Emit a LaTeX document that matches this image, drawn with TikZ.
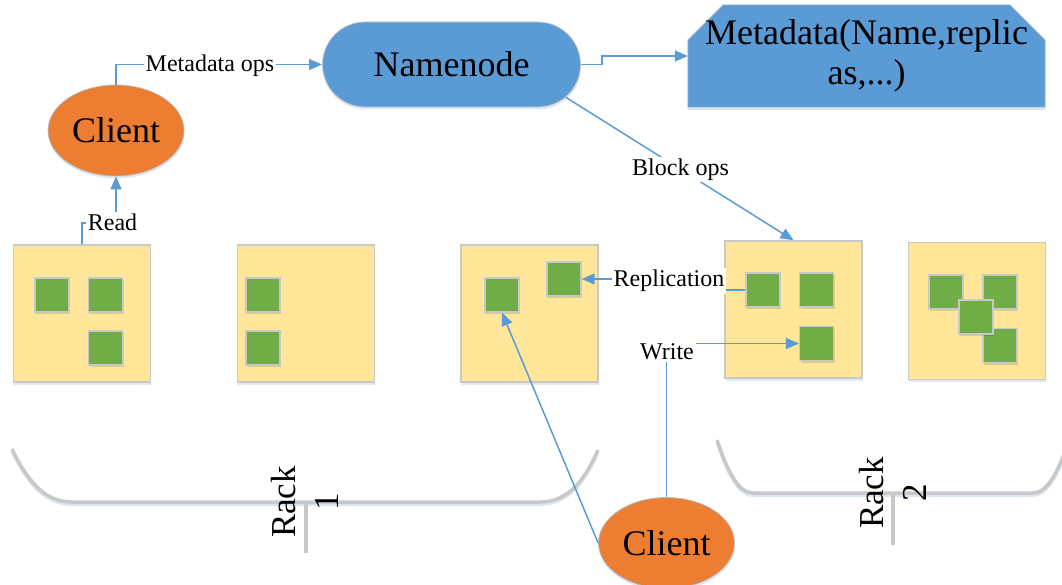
\documentclass[tikz,border=0pt]{standalone}
\usepackage{fontspec}
\setmainfont{Liberation Serif}
\usetikzlibrary{arrows.meta,shapes.geometric,shapes.misc,shadows,calc,backgrounds}

\definecolor{hdfsblue}{HTML}{5B9BD5}
\definecolor{clientorange}{HTML}{ED7D31}
\definecolor{rackyellow}{HTML}{FFE699}
\definecolor{blockgreen}{HTML}{70AD47}
\definecolor{edgegray}{HTML}{C8C8C8}
\definecolor{shadeblue}{HTML}{DCE6F2}

\tikzset{
  soft shadow/.style={drop shadow={shadow xshift=0.5pt, shadow yshift=-2.5pt, fill=shadeblue, opacity=0.9}},
  client/.style={ellipse, fill=clientorange, draw=shadeblue!60!gray, line width=0.8pt,
    minimum width=136pt, minimum height=91pt, inner sep=0pt, soft shadow,
    font=\fontsize{36}{40}\selectfont},
  namebox/.style={rounded rectangle, fill=hdfsblue, draw=gray!45, line width=0.8pt,
    minimum width=258pt, minimum height=85pt, inner sep=0pt, soft shadow,
    font=\fontsize{36}{40}\selectfont},
  metatext/.style={minimum width=357pt, minimum height=102pt, inner sep=0pt, align=center,
    font=\fontsize{36}{40}\selectfont},
  datanode/.style={rectangle, fill=rackyellow, draw=edgegray, line width=1.5pt,
    minimum width=137pt, minimum height=137pt, inner sep=0pt, soft shadow},
  blk/.style={rectangle, fill=blockgreen, draw=edgegray, line width=1.2pt,
    minimum size=34pt, inner sep=0pt, drop shadow={shadow xshift=1pt, shadow yshift=-2pt, fill=black, opacity=0.12}},
  link/.style={draw=hdfsblue, line width=1.5pt},
  arr/.style={link, -{Triangle[length=13pt,width=11pt]}},
  tag/.style={fill=white, inner sep=2pt, font=\fontsize{24}{27}\selectfont},
  rack/.style={draw=edgegray, line width=3.5pt},
  rackshade/.style={draw=shadeblue, line width=3pt},
  racklabel/.style={rotate=90, align=center, inner sep=0pt, font=\fontsize{35}{43}\selectfont},
}

\begin{document}
\begin{tikzpicture}[x=1pt, y=-1pt]
\useasboundingbox (0,0) rectangle (1062,585);

% rack braces (shadow first, then the gray stroke)
\begin{scope}[yshift=-2.5pt]
  \draw[rackshade] (12,449) .. controls (28,482) and (45,502) .. (72,502) -- (540,502)
        .. controls (567,502) and (584,482) .. (598,450);
  \draw[rackshade] (717,440) .. controls (727,470) and (738,493) .. (753,493) -- (1033,493)
        .. controls (1048,493) and (1059,470) .. (1069,440);
\end{scope}
\draw[rack] (12,449) .. controls (28,482) and (45,502) .. (72,502) -- (540,502)
      .. controls (567,502) and (584,482) .. (598,450);
\draw[rack] (306,502) -- (306,553);
\draw[rack] (717,440) .. controls (727,470) and (738,493) .. (753,493) -- (1033,493)
      .. controls (1048,493) and (1059,470) .. (1069,440);
\draw[rack] (893,493) -- (893,545);

\node[racklabel] (rack1) at (304.5,502) {Rack\\1};
\node[racklabel] (rack2) at (893,493) {Rack\\2};

% namenode, clients and metadata store
\node[namebox] (nn) at (451.5,64.5) {Namenode};
\node[client] (client1) at (116,130.5) {Client};
\node[client] (client2) at (666.5,543) {Client};

\node[metatext] (meta) at (866.5,56) {Metadata(Name,replic\\as,...)};
\begin{scope}[on background layer]
  \fill[shadeblue] ([yshift=-3pt]meta.south west) -- ($(meta.north west)+(0,35)$) -- ($(meta.north west)+(35,0)$)
    -- ($(meta.north east)+(-35,0)$) -- ($(meta.north east)+(0,35)$) -- ([yshift=-3pt]meta.south east) -- cycle;
  \fill[hdfsblue, draw=gray!40, line width=0.8pt] (meta.south west) -- ($(meta.north west)+(0,35)$) -- ($(meta.north west)+(35,0)$)
    -- ($(meta.north east)+(-35,0)$) -- ($(meta.north east)+(0,35)$) -- (meta.south east) -- cycle;
\end{scope}

% datanodes
\node[datanode] (dnA) at (82,313.5) {};
\node[datanode] (dnB) at (306,313.5) {};
\node[datanode] (dnC) at (529.5,313.5) {};
\node[datanode] (dnD) at (793.5,309.5) {};
\node[datanode] (dnE) at (977,311) {};

% blocks
\node[blk] (A1) at (52,295) {};
\node[blk] (A2) at (105.5,295) {};
\node[blk] (A3) at (105.5,348) {};
\node[blk] (B1) at (263,295) {};
\node[blk] (B2) at (263,348) {};
\node[blk] (C1) at (502,295) {};
\node[blk] (C2) at (564,279) {};
\node[blk] (D1) at (763,290) {};
\node[blk] (D2) at (816.5,290) {};
\node[blk] (D3) at (816.5,343.5) {};
\node[blk] (E1) at (946,292) {};
\node[blk] (E2) at (1000,292) {};
\node[blk] (E4) at (1000,345.5) {};
\node[blk] (E3) at (976,317) {};

% connectors
\draw[arr] (client1.north) |- (nn.west);
\draw[arr] (nn.east) -- ++(21,0) |- (meta.west);
\draw[arr] (nn.-16) -- (dnD.north);
\draw[arr] (dnA.north) -- ++(0,-21) -| (client1.south);
\draw[arr] (D1.west) -- ++(-22,0) |- (C2.east);
\draw[arr] (client2.north) |- (D3.west);
\draw[arr] (client2.west) -- (C1.south);

% connector labels
\node[tag] (lblmeta) at (210,66) {Metadata ops};
\node[tag] (lblblock) at (680.5,169.5) {Block ops};
\node[tag] (lblread) at (112.5,222) {Read};
\node[tag] (lblrepl) at (669,281) {Replication};
\node[tag] (lblwrite) at (667,352) {Write};
\end{tikzpicture}
\end{document}
